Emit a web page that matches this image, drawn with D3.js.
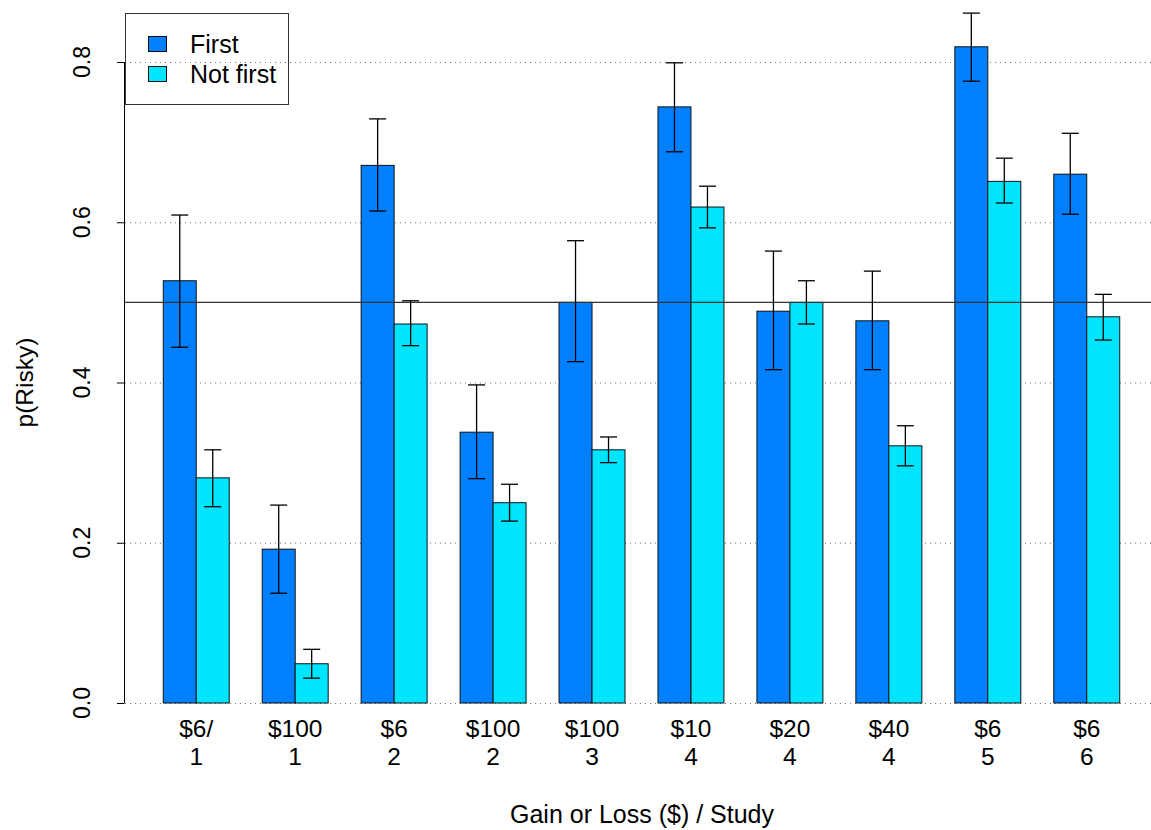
<!DOCTYPE html>
<html>
<head>
<meta charset="utf-8">
<script src="https://cdn.jsdelivr.net/npm/d3@7"></script>
<style>
  body { margin: 0; background: #fff; }
  svg text { font-family: "Liberation Sans", Arial, sans-serif; fill: #000; }
</style>
</head>
<body>
<div id="chart"></div>
<script>
// values
const amounts = ['$6/', '$100', '$6', '$100', '$100', '$10', '$20', '$40', '$6', '$6'];
const studies = ['1', '1', '2', '2', '3', '4', '4', '4', '5', '6'];
const seriesNames = ['First', 'Not first'];
const seriesColors = ['#0080ff', '#00e5ff'];

const firstMean = [0.527, 0.192, 0.671, 0.338, 0.500, 0.744, 0.489, 0.477, 0.819, 0.660];
const firstLow  = [0.444, 0.137, 0.614, 0.280, 0.426, 0.688, 0.416, 0.416, 0.776, 0.610];
const firstHigh = [0.609, 0.247, 0.729, 0.397, 0.577, 0.799, 0.564, 0.539, 0.861, 0.711];

const notMean = [0.281, 0.049, 0.473, 0.250, 0.316, 0.619, 0.500, 0.321, 0.651, 0.482];
const notLow  = [0.245, 0.031, 0.446, 0.227, 0.300, 0.593, 0.473, 0.296, 0.624, 0.453];
const notHigh = [0.316, 0.067, 0.502, 0.273, 0.332, 0.645, 0.527, 0.346, 0.680, 0.510];

const yTicks = [0, 0.2, 0.4, 0.6, 0.8];
const refLine = 0.5;

const width = 1151, height = 830;
const fs = 24.5;

const svg = d3.select('#chart').append('svg')
  .attr('width', width)
  .attr('height', height);

// bar units like R barplot with space = c(0, 1): group i spans units 3i+1 .. 3i+3
const nUnits = amounts.length * 3;
const pad = 0.04 * (nUnits - 1);
const x = d3.scaleLinear()
  .domain([1 - pad, nUnits + pad])
  .range([125, 1158]);

const y = d3.scaleLinear()
  .domain([0, 0.8])
  .range([703, 62]);

const rows = amounts.map((a, i) => ({
  amount: a,
  study: studies[i],
  bars: [
    { s: 0, mean: firstMean[i], lo: firstLow[i], hi: firstHigh[i], u: 3 * i + 1 },
    { s: 1, mean: notMean[i], lo: notLow[i], hi: notHigh[i], u: 3 * i + 2 }
  ]
}));

// dotted grid
svg.append('g').selectAll('line')
  .data(yTicks).enter()
  .append('line')
  .attr('x1', x.range()[0])
  .attr('x2', x.range()[1])
  .attr('y1', d => y(d) + 0.5)
  .attr('y2', d => y(d) + 0.5)
  .attr('stroke', '#777')
  .attr('stroke-width', 1)
  .attr('stroke-dasharray', '1,4');

// bars
const bars = rows.flatMap(r => r.bars);
svg.append('g').selectAll('rect')
  .data(bars).enter()
  .append('rect')
  .attr('x', d => x(d.u))
  .attr('width', d => x(d.u + 1) - x(d.u))
  .attr('y', d => y(d.mean))
  .attr('height', d => y(0) - y(d.mean))
  .attr('fill', d => seriesColors[d.s])
  .attr('stroke', '#111')
  .attr('stroke-width', 1);

// reference line
svg.append('line')
  .attr('x1', x.range()[0])
  .attr('x2', x.range()[1])
  .attr('y1', y(refLine))
  .attr('y2', y(refLine))
  .attr('stroke', '#333')
  .attr('stroke-width', 1.2);

// error bars
const err = svg.append('g').attr('stroke', '#000').attr('stroke-width', 1.3);
const capHalf = 8.5;
for (const d of bars) {
  const cx = x(d.u + 0.5);
  err.append('line').attr('x1', cx).attr('x2', cx).attr('y1', y(d.lo)).attr('y2', y(d.hi));
  err.append('line').attr('x1', cx - capHalf).attr('x2', cx + capHalf).attr('y1', y(d.lo)).attr('y2', y(d.lo));
  err.append('line').attr('x1', cx - capHalf).attr('x2', cx + capHalf).attr('y1', y(d.hi)).attr('y2', y(d.hi));
}

// y axis
const yAxis = svg.append('g');
yAxis.append('line')
  .attr('x1', 124.5).attr('x2', 124.5)
  .attr('y1', y(0)).attr('y2', y(0.8))
  .attr('stroke', '#000');
yAxis.selectAll('.tick')
  .data(yTicks).enter()
  .append('line')
  .attr('x1', 117).attr('x2', 124.5)
  .attr('y1', d => y(d) + 0.5).attr('y2', d => y(d) + 0.5)
  .attr('stroke', '#000');
yAxis.selectAll('text')
  .data(yTicks).enter()
  .append('text')
  .attr('transform', d => `translate(90, ${y(d)}) rotate(-90)`)
  .attr('text-anchor', 'middle')
  .attr('font-size', 23)
  .text(d => d.toFixed(1));

svg.append('text')
  .attr('transform', `translate(33, ${(y(0) + y(0.8)) / 2}) rotate(-90)`)
  .attr('text-anchor', 'middle')
  .attr('font-size', fs)
  .text('p(Risky)');

// x labels
const xl = svg.append('g').attr('font-size', fs).attr('text-anchor', 'middle');
rows.forEach((r, i) => {
  const cx = x(3 * i + 2);
  xl.append('text').attr('x', cx).attr('y', 737).text(r.amount);
  xl.append('text').attr('x', cx).attr('y', 765).text(r.study);
});

svg.append('text')
  .attr('x', 642)
  .attr('y', 823)
  .attr('text-anchor', 'middle')
  .attr('font-size', 25)
  .text('Gain or Loss ($) / Study');

// legend
const lg = svg.append('g');
lg.append('rect')
  .attr('x', 125.5).attr('y', 13.5)
  .attr('width', 163).attr('height', 91)
  .attr('fill', 'none')
  .attr('stroke', '#333');
seriesNames.forEach((name, i) => {
  const yy = 36 + i * 30;
  lg.append('rect')
    .attr('x', 148.5).attr('y', yy + 0.5)
    .attr('width', 18).attr('height', 15)
    .attr('fill', seriesColors[i])
    .attr('stroke', '#111');
  lg.append('text')
    .attr('x', 190).attr('y', yy + 17)
    .attr('font-size', 25)
    .text(name);
});
</script>
</body>
</html>
